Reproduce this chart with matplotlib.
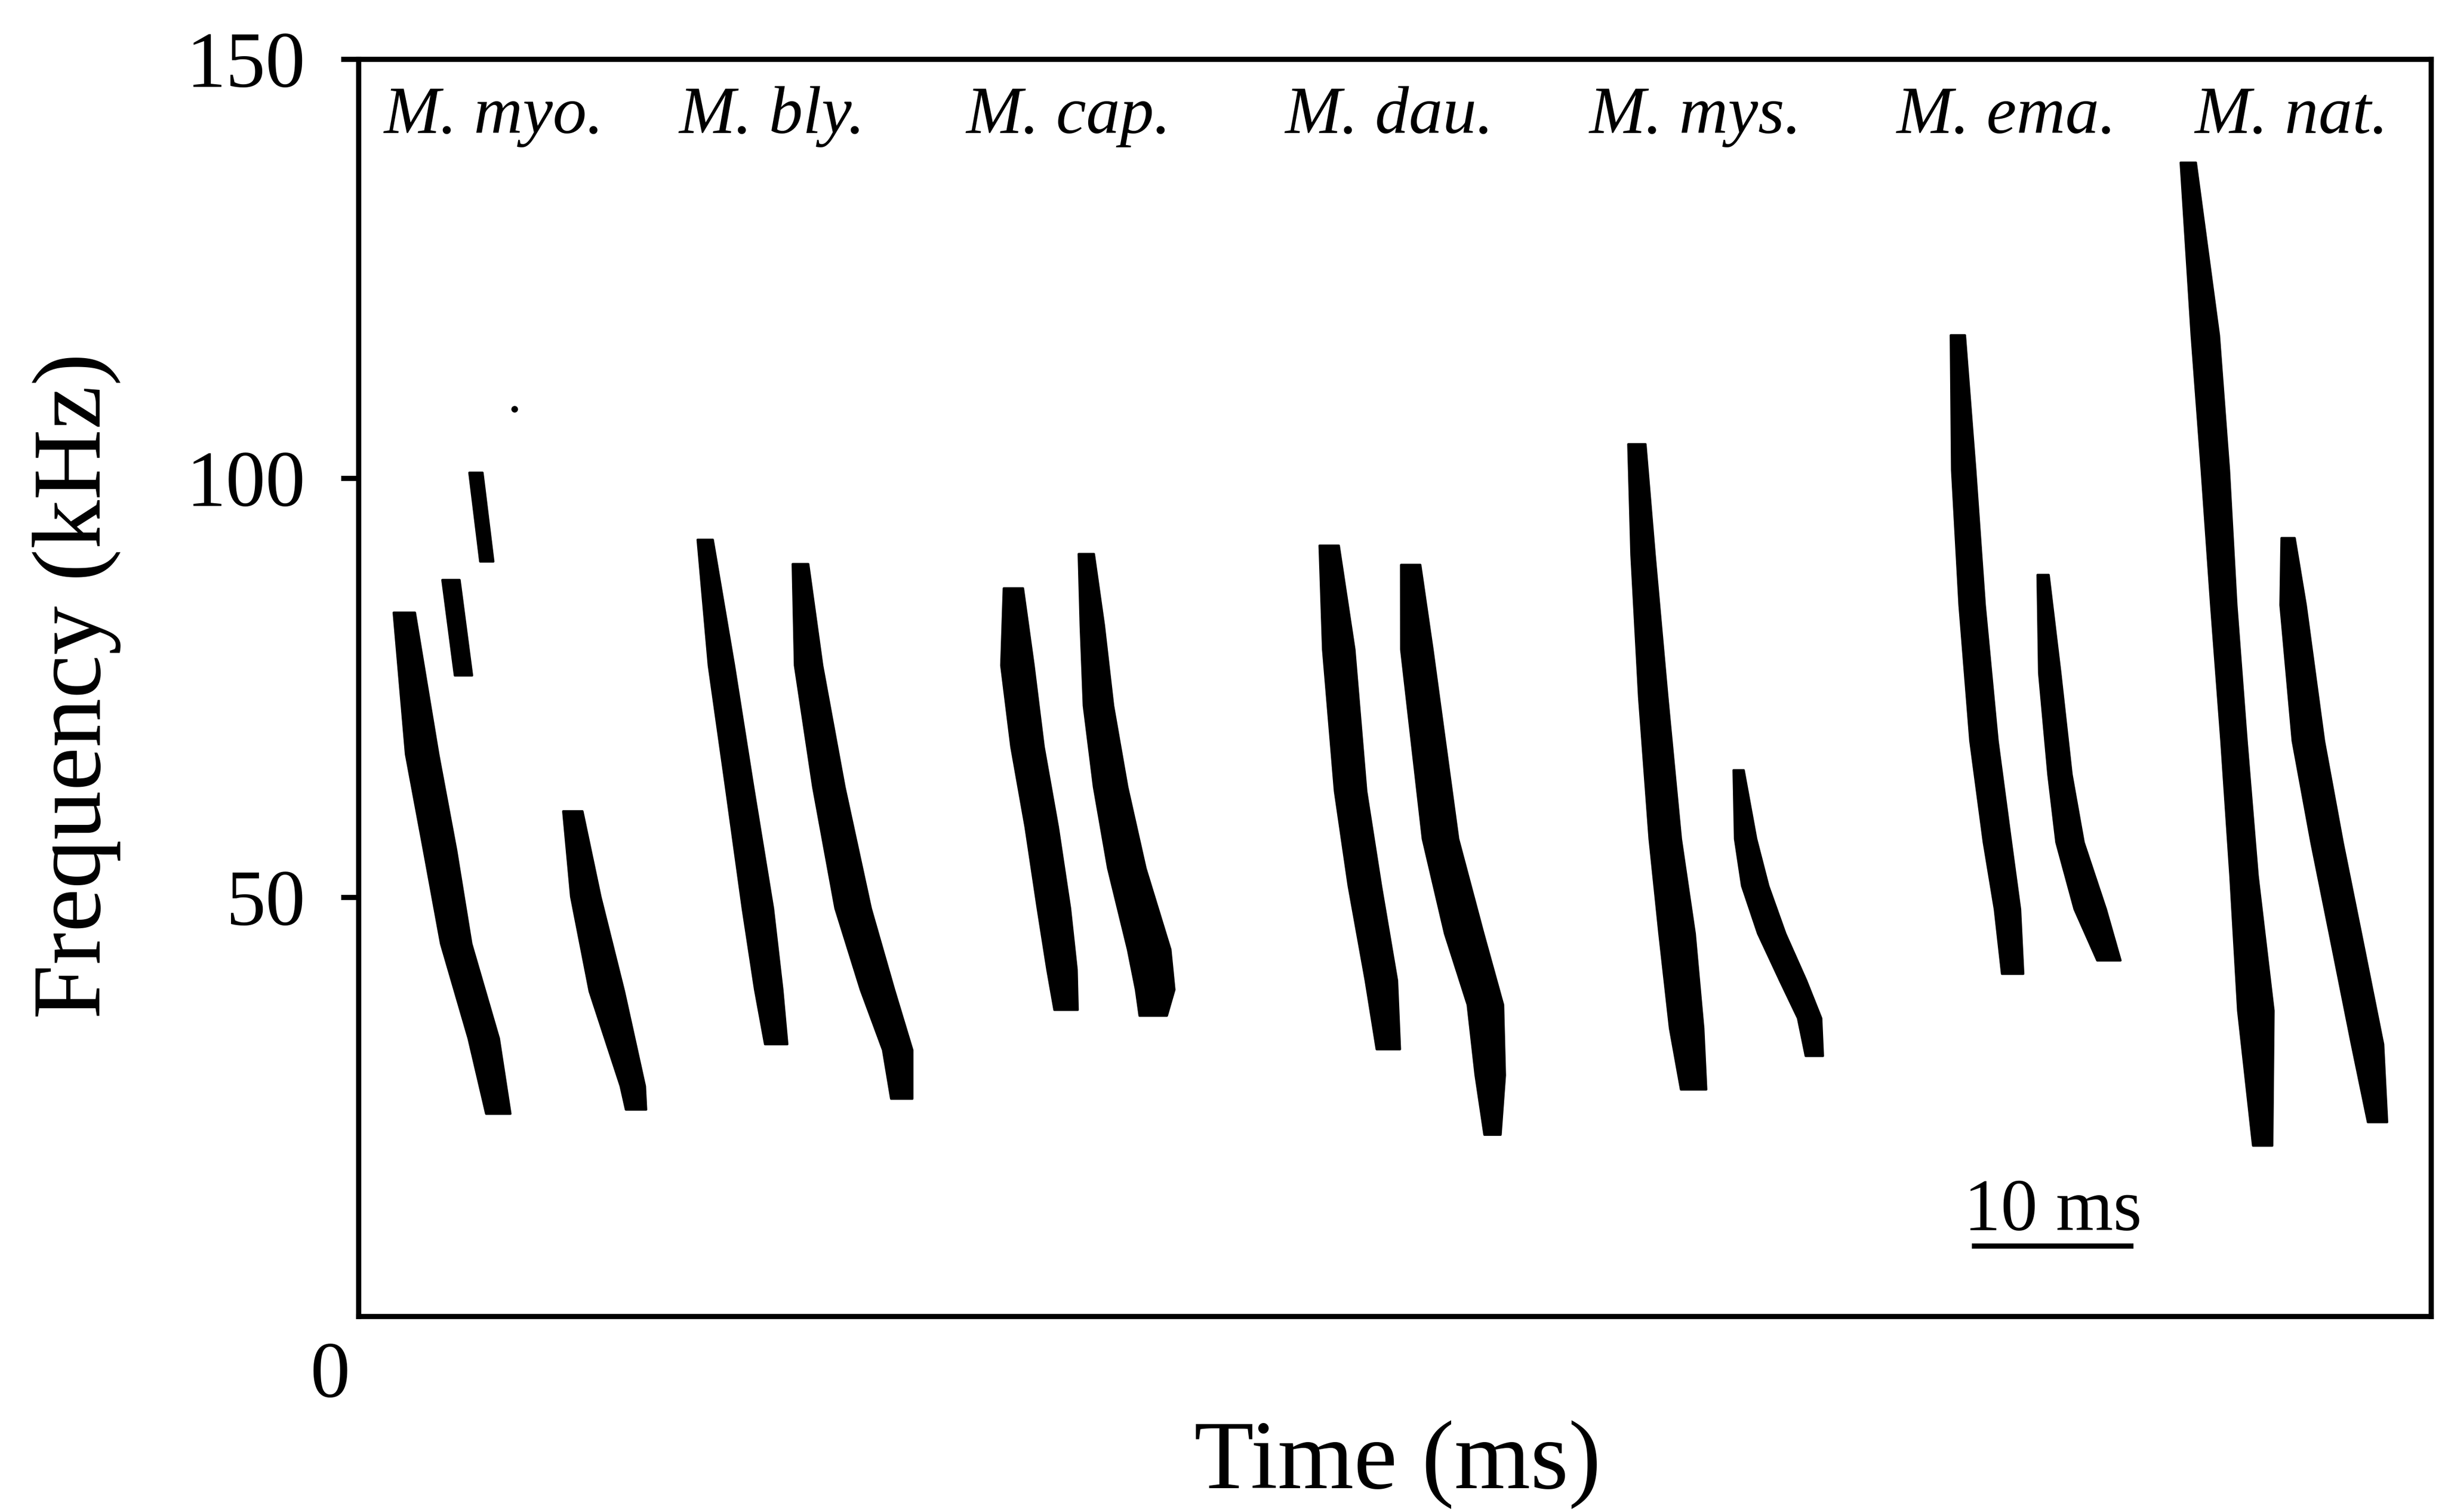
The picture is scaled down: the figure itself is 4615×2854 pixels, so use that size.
import numpy as np
import matplotlib.pyplot as plt

plt.rcParams['font.family'] = ['Liberation Serif', 'DejaVu Serif']

# echolocation pulses: centre line (time in ms, frequency in kHz) and pulse width in ms
myo1_t = [2.8, 3.9, 5.0, 6.0, 7.7, 8.6]
myo1_f = [84.0, 67.1, 55.7, 44.5, 33.2, 24.2]
myo1_w = [1.05, 1.6, 1.6, 1.5, 1.5, 1.2]
myo1h2_t = [5.68, 6.45]
myo1h2_f = [87.9, 76.5]
myo1h2_w = [0.85, 0.85]
myo1h3_t = [7.22, 7.89]
myo1h3_f = [100.7, 90.1]
myo1h3_w = [0.65, 0.65]
myo2_t = [13.2, 14.0, 15.3, 16.9, 17.1]
myo2_f = [60.3, 50.1, 38.8, 27.5, 24.7]
myo2_w = [0.95, 1.45, 1.7, 1.2, 1.0]

bly1_t = [21.37, 22.37, 23.49, 24.62, 25.29, 25.75]
bly1_f = [92.7, 77.7, 63.2, 48.7, 39.0, 32.5]
bly1_w = [0.75, 1.25, 1.35, 1.5, 1.35, 1.1]
bly2_t = [27.25, 27.75, 29.0, 30.5, 32.0, 33.25, 33.5]
bly2_f = [89.8, 77.7, 63.2, 48.7, 39.0, 31.8, 26.0]
bly2_w = [0.77, 1.35, 1.55, 1.75, 1.65, 1.45, 1.05]

cap1_t = [40.39, 40.64, 41.26, 42.14, 42.89, 43.39, 43.64]
cap1_f = [86.9, 77.7, 68.0, 58.4, 48.7, 41.4, 36.6]
cap1_w = [0.95, 1.6, 1.6, 1.6, 1.6, 1.45, 1.15]
cap2_t = [44.89, 45.26, 45.64, 46.39, 47.39, 48.77, 49.14, 49.02]
cap2_f = [91.0, 82.5, 72.9, 63.2, 53.5, 43.8, 39.0, 35.9]
cap2_w = [0.75, 1.15, 1.45, 1.65, 1.85, 2.1, 1.9, 1.35]

dau1_t = [59.88, 60.47, 61.2, 62.08, 63.1, 63.53]
dau1_f = [92.0, 79.6, 62.7, 51.4, 40.1, 31.9]
dau1_w = [0.95, 1.55, 1.55, 1.6, 1.55, 1.15]
dau2_t = [64.91, 65.29, 66.02, 66.75, 68.21, 69.52, 69.82, 69.96]
dau2_f = [89.7, 79.6, 68.3, 57.0, 45.7, 37.2, 28.8, 21.7]
dau2_w = [0.95, 1.55, 1.65, 1.75, 1.9, 1.75, 1.45, 0.8]

mys1_t = [78.87, 79.25, 79.88, 80.62, 81.35, 81.94, 82.37]
mys1_f = [104.1, 90.9, 73.9, 57.0, 45.7, 34.4, 27.1]
mys1_w = [0.85, 1.15, 1.4, 1.55, 1.75, 1.65, 1.25]
mys2_t = [85.15, 85.58, 86.17, 87.19, 88.51, 89.53, 89.82]
mys2_f = [65.2, 57.0, 51.4, 45.7, 40.1, 35.6, 31.1]
mys2_w = [0.5, 1.05, 1.3, 1.35, 1.3, 1.15, 0.85]

ema1_t = [98.68, 99.04, 99.56, 100.29, 101.12, 101.74, 102.06]
ema1_f = [117.1, 101.0, 84.9, 68.7, 56.6, 48.6, 40.9]
ema1_w = [0.7, 1.15, 1.25, 1.35, 1.35, 1.25, 1.05]
ema2_t = [103.94, 104.35, 104.98, 105.6, 106.85, 108.0]
ema2_f = [88.5, 76.8, 64.7, 56.6, 48.6, 42.5]
ema2_w = [0.55, 1.05, 1.15, 1.35, 1.55, 1.15]

nat1_t = [112.9, 113.95, 114.57, 115.09, 115.72, 116.34, 117.07, 117.49]
nat1_f = [137.7, 117.1, 101.0, 84.9, 68.7, 52.6, 36.5, 20.4]
nat1_w = [0.75, 1.35, 1.35, 1.25, 1.25, 1.35, 1.75, 0.95]
nat2_t = [119.06, 119.37, 120.31, 121.46, 122.71, 123.96, 124.58]
nat2_f = [92.9, 84.9, 68.7, 56.6, 44.6, 32.5, 23.2]
nat2_w = [0.65, 1.25, 1.55, 1.55, 1.55, 1.55, 0.95]

species = ['M. myo.', 'M. bly.', 'M. cap.', 'M. dau.', 'M. mys.', 'M. ema.', 'M. nat.']
species_t = [8.35, 25.5, 43.8, 63.6, 82.5, 101.7, 119.3]

speck_t = [9.6]
speck_f = [108.3]

yticks = [50, 100, 150]
scale_start = 99.55
scale_len = 10

calls = [
    (myo1_t, myo1_f, myo1_w), (myo1h2_t, myo1h2_f, myo1h2_w), (myo1h3_t, myo1h3_f, myo1h3_w),
    (myo2_t, myo2_f, myo2_w),
    (bly1_t, bly1_f, bly1_w), (bly2_t, bly2_f, bly2_w),
    (cap1_t, cap1_f, cap1_w), (cap2_t, cap2_f, cap2_w),
    (dau1_t, dau1_f, dau1_w), (dau2_t, dau2_f, dau2_w),
    (mys1_t, mys1_f, mys1_w), (mys2_t, mys2_f, mys2_w),
    (ema1_t, ema1_f, ema1_w), (ema2_t, ema2_f, ema2_w),
    (nat1_t, nat1_f, nat1_w), (nat2_t, nat2_f, nat2_w),
]

fig = plt.figure(figsize=(46.15, 28.54), dpi=100)
ax = fig.add_axes([0.1467, 0.1294, 0.8476, 0.8314])

# ink spreads a bit in the printed spectrogram, so fatten the traces
spread = 1.25
for t, f, w in calls:
    t = np.array(t)
    w = np.array(w) * spread
    ax.fill_betweenx(f, t - w / 2, t + w / 2, color='black', lw=3, joinstyle='round')

ax.plot(speck_t, speck_f, 'ko', ms=8)

for name, tc in zip(species, species_t):
    ax.text(tc, 141.2, name, ha='center', va='baseline', fontsize=92, style='italic')

# 10 ms scale bar
ax.plot([scale_start, scale_start + scale_len], [8.37, 8.37], color='black', lw=7,
        solid_capstyle='butt')
ax.text(scale_start + scale_len / 2, 10.3, '%d ms' % scale_len, ha='center', va='baseline',
        fontsize=100)

ax.set_xlim(0, 127.9)
ax.set_ylim(0, 150)
ax.set_xticks([])
ax.set_yticks(yticks)
ax.set_yticklabels([str(v) for v in yticks])
ax.tick_params(axis='y', direction='out', length=24, width=7, pad=48, labelsize=108)
for s in ax.spines.values():
    s.set_linewidth(7)
ax.text(-1.78, -7.35, '0', ha='center', va='center', fontsize=108, clip_on=False)

fig.text(0.5716, 0.0316, 'Time (ms)', ha='center', va='center', fontsize=133)
fig.text(0.0312, 0.5464, 'Frequency (kHz)', ha='center', va='center', rotation=90, fontsize=133)

fig.savefig('out.png', dpi=100)
